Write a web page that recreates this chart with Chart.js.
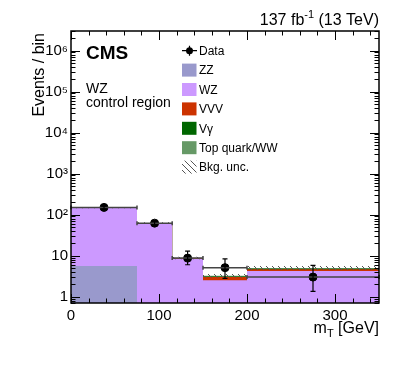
<!DOCTYPE html>
<html>
<head>
<meta charset="utf-8">
<script src="https://cdn.jsdelivr.net/npm/chart.js@4"></script>
<style>
  html, body { margin: 0; padding: 0; background: #fff; }
</style>
</head>
<body>
<canvas id="chart" width="399" height="379"></canvas>
<script>
// bin edges in mT [GeV]
const edges = [0, 75, 115, 150, 200, 350];

// expected yields per bin (stacked)
const zz     = [5.6, 0.4, 0.15, 0.1, 0.1];
const wz     = [142, 61.5, 8.2, 2.4, 4.1];
const vvv    = [0.4, 0.3, 0.3, 0.5, 0.45];
const vgamma = [0.2, 0.1, 0.05, 0.1, 0.15];
const topww  = [0.3, 0.1, 0.05, 0.15, 0.2];
const bkgUnc = [0.04, 0.05, 0.07, 0.1, 0.11]; // relative

// observed data
const dataX  = [37.5, 95, 132.5, 175, 275];
const dataY  = [150, 62, 8.7, 5.1, 3.0];
const dataLo = [138, 54, 6.0, 2.8, 1.35];
const dataHi = [162, 70, 12.9, 8.3, 5.8];

const procNames  = ["ZZ", "WZ", "VVV", "V\u03b3", "Top quark/WW"];
const procColors = ["#9999cc", "#cc99ff", "#cc3300", "#006600", "#669966"];
const procValues = [zz, wz, vvv, vgamma, topww];

const FONT = '"Liberation Sans", Arial, sans-serif';
const sup = {2: "\u00b2", 3: "\u00b3", 4: "\u2074", 5: "\u2075", 6: "\u2076"};

const canvas = document.getElementById("chart");
const context = canvas.getContext("2d");

// hatch pattern for the uncertainty band
function makeHatch() {
    const c = document.createElement("canvas");
    c.width = 6; c.height = 6;
    const g = c.getContext("2d");
    g.strokeStyle = "#555";
    g.lineWidth = 1;
    g.beginPath();
    g.moveTo(0, 0); g.lineTo(6, 6);
    g.moveTo(-1, 5); g.lineTo(1, 7);
    g.moveTo(5, -1); g.lineTo(7, 1);
    g.stroke();
    return context.createPattern(c, "repeat");
}
const hatch = makeHatch();

// step points: one point per bin edge, last value repeated
function steps(vals) {
    return edges.map((x, i) => ({x, y: vals[Math.min(i, vals.length - 1)]}));
}

// cumulative stack
let running = [0, 0, 0, 0, 0];
const cumulative = procValues.map(v => {
    running = running.map((r, i) => r + v[i]);
    return running.slice();
});
const total = running;

const stackSets = cumulative.map((vals, k) => ({
    label: procNames[k],
    data: steps(vals),
    stepped: "before",
    fill: "start",
    backgroundColor: procColors[k],
    borderColor: "rgba(0,0,0,0)",
    borderWidth: 0,
    pointRadius: 0,
    order: k + 1
}));

const datasets = [
    {
        label: "Data",
        data: dataX.map((x, i) => ({x, y: dataY[i]})),
        showLine: false,
        pointRadius: 4,
        pointBackgroundColor: "#000",
        pointBorderColor: "#000",
        order: 0
    },
    {
        label: "unc low",
        data: steps(total.map((t, i) => t * (1 - bkgUnc[i]))),
        stepped: "before",
        fill: false,
        borderColor: "rgba(0,0,0,0)",
        borderWidth: 0,
        pointRadius: 0,
        order: 0
    },
    {
        label: "Bkg. unc.",
        data: steps(total.map((t, i) => t * (1 + bkgUnc[i]))),
        stepped: "before",
        fill: "-1",
        backgroundColor: hatch,
        borderColor: "rgba(0,0,0,0)",
        borderWidth: 0,
        pointRadius: 0,
        order: 0
    }
].concat(stackSets);

const decor = {
    id: "decor",
    afterDatasetsDraw(chart) {
        const {ctx, scales: {x, y}} = chart;
        ctx.save();
        // error bars of the data
        dataX.forEach((v, i) => {
            const px = x.getPixelForValue(v);
            const py = y.getPixelForValue(dataY[i]);
            const x0 = x.getPixelForValue(edges[i]);
            const x1 = x.getPixelForValue(edges[i + 1]);
            const yl = y.getPixelForValue(dataLo[i]);
            const yh = y.getPixelForValue(dataHi[i]);
            ctx.strokeStyle = "#444";
            ctx.lineWidth = 1.5;
            ctx.beginPath();
            ctx.moveTo(x0, py); ctx.lineTo(x1, py);
            ctx.moveTo(x0, py - 2); ctx.lineTo(x0, py + 2);
            ctx.moveTo(x1, py - 2); ctx.lineTo(x1, py + 2);
            ctx.stroke();
            ctx.strokeStyle = "#000";
            ctx.lineWidth = 1.2;
            ctx.beginPath();
            ctx.moveTo(px, yl); ctx.lineTo(px, yh);
            ctx.moveTo(px - 2.5, yl); ctx.lineTo(px + 2.5, yl);
            ctx.moveTo(px - 2.5, yh); ctx.lineTo(px + 2.5, yh);
            ctx.stroke();
        });
        ctx.restore();
    },
    afterDraw(chart) {
        const {ctx, chartArea: a, scales: {x, y}} = chart;
        ctx.save();
        ctx.strokeStyle = "#000";
        ctx.lineWidth = 1.5;
        ctx.strokeRect(a.left, a.top, a.right - a.left, a.bottom - a.top);

        // inward tick marks
        ctx.lineWidth = 1;
        ctx.beginPath();
        for (let e = -1; e <= 6; e++) {
            for (let m = 1; m <= 9; m++) {
                const v = m * Math.pow(10, e);
                if (v < y.min || v > y.max) continue;
                const py = Math.round(y.getPixelForValue(v)) + 0.5;
                const len = m === 1 ? 9 : 4.5;
                ctx.moveTo(a.left, py); ctx.lineTo(a.left + len, py);
                ctx.moveTo(a.right, py); ctx.lineTo(a.right - len, py);
            }
        }
        for (let v = 0; v <= 350; v += 20) {
            const px = Math.round(x.getPixelForValue(v)) + 0.5;
            const len = v % 100 === 0 ? 9 : 4.5;
            ctx.moveTo(px, a.bottom); ctx.lineTo(px, a.bottom - len);
            ctx.moveTo(px, a.top); ctx.lineTo(px, a.top + len);
        }
        ctx.stroke();

        ctx.fillStyle = "#000";
        ctx.textBaseline = "alphabetic";

        // lumi label
        ctx.font = "16px " + FONT;
        const p1 = "137 fb", p3 = " (13 TeV)";
        const w1 = ctx.measureText(p1).width, w3 = ctx.measureText(p3).width;
        ctx.font = "11px " + FONT;
        const w2 = ctx.measureText("-1").width;
        let sx = a.right - (w1 + w2 + w3);
        ctx.font = "16px " + FONT;
        ctx.textAlign = "left";
        ctx.fillText(p1, sx, 25);
        ctx.font = "11px " + FONT;
        ctx.fillText("-1", sx + w1, 18);
        ctx.font = "16px " + FONT;
        ctx.fillText(p3, sx + w1 + w2, 25);

        // x title
        ctx.font = "16px " + FONT;
        const m1 = ctx.measureText("m").width, m3 = ctx.measureText(" [GeV]").width;
        ctx.font = "11px " + FONT;
        const m2 = ctx.measureText("T").width;
        sx = a.right - (m1 + m2 + m3);
        ctx.font = "16px " + FONT;
        ctx.fillText("m", sx, 333);
        ctx.font = "11px " + FONT;
        ctx.fillText("T", sx + m1, 337);
        ctx.font = "16px " + FONT;
        ctx.fillText(" [GeV]", sx + m1 + m2, 333);

        // y title
        ctx.save();
        ctx.translate(40, a.top + 2);
        ctx.rotate(-Math.PI / 2);
        ctx.textAlign = "right";
        ctx.textBaseline = "middle";
        ctx.font = "16px " + FONT;
        ctx.fillText("Events / bin", 0, 0);
        ctx.restore();

        // CMS label
        ctx.textAlign = "left";
        ctx.font = "bold 19px " + FONT;
        ctx.fillText("CMS", 86, 59);
        ctx.font = "14px " + FONT;
        ctx.fillText("WZ", 86, 93);
        ctx.fillText("control region", 86, 107);

        // legend
        const lx = 182, tx = 199, ly0 = 50.7, dy = 19.4;
        ctx.font = "12px " + FONT;
        ctx.textBaseline = "middle";
        ctx.strokeStyle = "#000";
        ctx.lineWidth = 1.2;
        ctx.beginPath();
        ctx.moveTo(lx, ly0); ctx.lineTo(lx + 15, ly0);
        ctx.moveTo(lx + 7.5, ly0 - 5); ctx.lineTo(lx + 7.5, ly0 + 5);
        ctx.stroke();
        ctx.beginPath();
        ctx.arc(lx + 7.5, ly0, 3.5, 0, Math.PI * 2);
        ctx.fill();
        ctx.fillText("Data", tx, ly0 + 1);
        procNames.forEach((n, k) => {
            const cy = ly0 + dy * (k + 1);
            ctx.fillStyle = procColors[k];
            ctx.fillRect(lx, cy - 6.5, 14.5, 13);
            ctx.fillStyle = "#000";
            ctx.fillText(n, tx, cy + 1);
        });
        const uy = ly0 + dy * 6;
        ctx.fillStyle = hatch;
        ctx.fillRect(lx, uy - 6.5, 14.5, 13);
        ctx.fillStyle = "#000";
        ctx.fillText("Bkg. unc.", tx, uy + 1);
        ctx.restore();
    }
};

new Chart(context, {
    type: "line",
    data: {datasets},
    options: {
        responsive: false,
        animation: false,
        layout: {padding: {top: 31, right: 20, left: 0, bottom: 0}},
        plugins: {legend: {display: false}, tooltip: {enabled: false}},
        scales: {
            x: {
                type: "linear",
                min: 0,
                max: 350,
                grid: {display: false, drawTicks: false},
                border: {display: false},
                ticks: {
                    stepSize: 20,
                    autoSkip: false,
                    maxRotation: 0,
                    padding: 4,
                    color: "#000",
                    font: {family: FONT, size: 15},
                    callback: v => (v % 100 === 0 ? String(v) : "")
                },
                afterFit: s => { s.height = 76; }
            },
            y: {
                type: "logarithmic",
                min: 0.74,
                max: 3e6,
                grid: {display: false, drawTicks: false},
                border: {display: false},
                ticks: {
                    autoSkip: false,
                    padding: 3,
                    color: "#000",
                    font: {family: FONT, size: 15},
                    callback: v => {
                        const l = Math.log10(v);
                        if (Math.abs(l - Math.round(l)) > 1e-6) return "";
                        const e = Math.round(l);
                        if (e === 0) return "1";
                        if (e === 1) return "10";
                        return "10" + (sup[e] || "");
                    }
                },
                afterFit: s => { s.width = 71; }
            }
        }
    },
    plugins: [decor]
});
</script>
</body>
</html>
